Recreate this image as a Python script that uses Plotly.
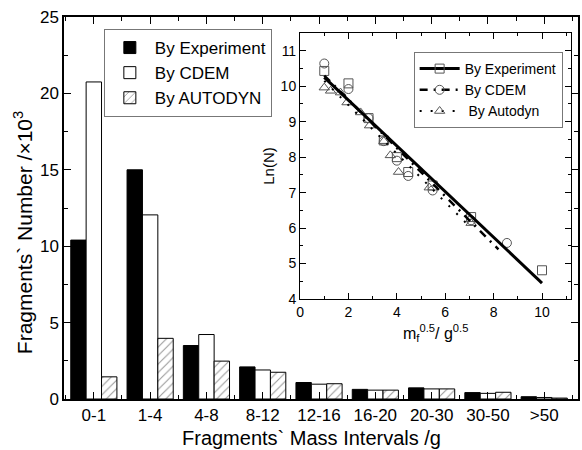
import plotly.graph_objects as go

# ---- main bar chart data (x10^3 fragments) ----
categories = ["0-1", "1-4", "4-8", "8-12", "12-16", "16-20", "20-30", "30-50", ">50"]
exp_counts = [10.4, 15.0, 3.5, 2.1, 1.08, 0.63, 0.73, 0.42, 0.15]
cdem_counts = [20.75, 12.05, 4.22, 1.9, 0.97, 0.58, 0.66, 0.37, 0.1]
auto_counts = [1.45, 3.97, 2.48, 1.75, 1.0, 0.58, 0.66, 0.44, 0.06]

# ---- inset data: Ln(N) vs m^0.5 ----
exp_x = [1, 2, 2.83, 3.46, 4, 4.47, 5.48, 7.07, 10]
exp_y = [10.43, 10.08, 9.1, 8.47, 8.0, 7.58, 7.2, 6.31, 4.81]
cdem_x = [1, 2, 2.83, 3.46, 4, 4.47, 5.48, 7.07, 8.55]
cdem_y = [10.64, 9.92, 9.1, 8.45, 7.9, 7.47, 7.06, 6.22, 5.58]
auto_x = [1, 1.26, 1.67, 1.94, 2.5, 2.87, 3.46, 3.73, 4.07, 5.34, 7.07]
auto_y = [9.96, 9.87, 9.82, 9.54, 9.26, 8.89, 8.45, 8.05, 7.58, 7.14, 6.14]

exp_fit_x = [1, 10]
exp_fit_y = [10.25, 4.45]
cdem_fit_x = [1, 8.2]
cdem_fit_y = [10.3, 5.4]
auto_fit_x = [1, 7.07]
auto_fit_y = [10.15, 6.0]

FONT = '"Liberation Sans", Arial, sans-serif'
NARROW = '"Liberation Sans Narrow", "Liberation Sans", Arial, sans-serif'

pos = list(range(len(categories)))

fig = go.Figure()

fig.add_trace(go.Bar(x=pos, y=exp_counts, name="By Experiment",
                     marker=dict(color="black", line=dict(color="black", width=1))))
fig.add_trace(go.Bar(x=pos, y=cdem_counts, name="By CDEM",
                     marker=dict(color="white", line=dict(color="black", width=1))))
fig.add_trace(go.Bar(x=pos, y=auto_counts, name="By AUTODYN",
                     marker=dict(color="white", line=dict(color="black", width=1),
                                 pattern=dict(shape="/", fgcolor="#333333", bgcolor="white",
                                              size=6, solidity=0.18))))

# inset scatter points
mk = dict(color="#555555", size=9, line=dict(color="#555555", width=1))
fig.add_trace(go.Scatter(x=exp_x, y=exp_y, mode="markers", xaxis="x2", yaxis="y2",
                         marker=dict(symbol="square-open", **mk), showlegend=False))
fig.add_trace(go.Scatter(x=cdem_x, y=cdem_y, mode="markers", xaxis="x2", yaxis="y2",
                         marker=dict(symbol="circle-open", **mk), showlegend=False))
fig.add_trace(go.Scatter(x=auto_x, y=auto_y, mode="markers", xaxis="x2", yaxis="y2",
                         marker=dict(symbol="triangle-up-open", **mk), showlegend=False))
# fit lines
fig.add_trace(go.Scatter(x=exp_fit_x, y=exp_fit_y, mode="lines", xaxis="x2", yaxis="y2",
                         line=dict(color="black", width=3), showlegend=False))
fig.add_trace(go.Scatter(x=cdem_fit_x, y=cdem_fit_y, mode="lines", xaxis="x2", yaxis="y2",
                         line=dict(color="black", width=2.5, dash="8px,6px,2px,6px"), showlegend=False))
fig.add_trace(go.Scatter(x=auto_fit_x, y=auto_fit_y, mode="lines", xaxis="x2", yaxis="y2",
                         line=dict(color="black", width=2, dash="2px,9px"), showlegend=False))

# legend-only entries for the inset legend
for sym, dash, w, nm in [("square-open", "solid", 3, "By Experiment"),
                         ("circle-open", "8px,6px,2px,6px", 2.5, "By CDEM"),
                         ("triangle-up-open", "2px,9px", 2, " By Autodyn")]:
    fig.add_trace(go.Scatter(x=[None], y=[None], mode="lines+markers", name=nm,
                             xaxis="x2", yaxis="y2", legend="legend2",
                             marker=dict(symbol=sym, **mk),
                             line=dict(color="black", width=w, dash=dash)))

L, R, T, B = 64, 2, 17, 51
W, H = 582, 450
pw, ph = W - L - R, H - T - B

def px(x):
    return (x - L) / pw

def py(y):
    return (H - B - y) / ph

fig.update_layout(
    width=W, height=H,
    margin=dict(l=L, r=R, t=T, b=B),
    paper_bgcolor="white", plot_bgcolor="white",
    font=dict(family=FONT, color="black", size=17),
    barmode="group", bargap=0.18, bargroupgap=0,
    xaxis=dict(range=[-0.53, 8.6], tickmode="array", tickvals=pos, ticktext=categories,
               ticks="inside", ticklen=7, tickcolor="black", showline=True, linecolor="black",
               linewidth=1.5, mirror="allticks", showgrid=False, zeroline=False,
               tickfont=dict(size=17, family=FONT),
               minor=dict(tickmode="linear", tick0=0.5, dtick=1, ticks="inside", ticklen=4,
                          tickcolor="black", showgrid=False)),
    yaxis=dict(range=[0, 25], tickmode="linear", tick0=0, dtick=5,
               ticks="inside", ticklen=7, tickcolor="black", showline=True, linecolor="black",
               linewidth=1.5, mirror="allticks", showgrid=False, zeroline=False,
               tickfont=dict(size=17, family=FONT),
               minor=dict(tickmode="linear", tick0=0, dtick=2.5, ticks="inside", ticklen=4,
                          tickcolor="black", showgrid=False)),
    xaxis2=dict(domain=[px(301), px(573)], anchor="y2", range=[0, 11.2],
                tickmode="linear", tick0=0, dtick=2, ticks="inside", ticklen=6,
                tickcolor="black", showline=True, linecolor="black", linewidth=1.2,
                mirror="allticks", showgrid=False, zeroline=False,
                tickfont=dict(size=14, family=NARROW),
                minor=dict(tickmode="linear", tick0=0, dtick=1, ticks="inside", ticklen=3,
                           tickcolor="black", showgrid=False)),
    yaxis2=dict(domain=[py(299), py(33)], anchor="x2", range=[4, 11.5],
                tickmode="linear", tick0=4, dtick=1, ticks="inside", ticklen=6,
                tickcolor="black", showline=True, linecolor="black", linewidth=1.2,
                mirror="allticks", showgrid=False, zeroline=False,
                tickfont=dict(size=14, family=NARROW),
                title=dict(text="Ln(N)", font=dict(size=15, family=NARROW), standoff=2),
                minor=dict(tickmode="linear", tick0=4, dtick=0.5, ticks="inside", ticklen=3,
                           tickcolor="black", showgrid=False)),
    legend=dict(x=px(104), y=py(29), xanchor="left", yanchor="top",
                bgcolor="white", bordercolor="#777777", borderwidth=1,
                font=dict(size=17, family=FONT), tracegroupgap=0, itemwidth=40,
                traceorder="normal"),
    legend2=dict(x=px(415), y=py(52), xanchor="left", yanchor="top",
                 bgcolor="white", bordercolor="#777777", borderwidth=1,
                 font=dict(size=14, family=NARROW), itemwidth=40),
    showlegend=True,
    annotations=[
        dict(text="Fragments` Number /×10<sup>3</sup>", xref="paper", yref="paper",
             x=px(23), y=py(233), textangle=-90, showarrow=False,
             font=dict(size=21, family=FONT), xanchor="center", yanchor="middle"),
        dict(text="Fragments` Mass Intervals /g", xref="paper", yref="paper",
             x=px(312), y=py(438), showarrow=False,
             font=dict(size=20, family=FONT), xanchor="center", yanchor="middle"),
        dict(text="m<sub>f</sub><sup>0.5</sup>/ g<sup>0.5</sup>", xref="paper", yref="paper",
             x=px(437), y=py(333), showarrow=False,
             font=dict(size=16, family=NARROW), xanchor="center", yanchor="middle"),
    ],
)

fig.write_html("out.html")
